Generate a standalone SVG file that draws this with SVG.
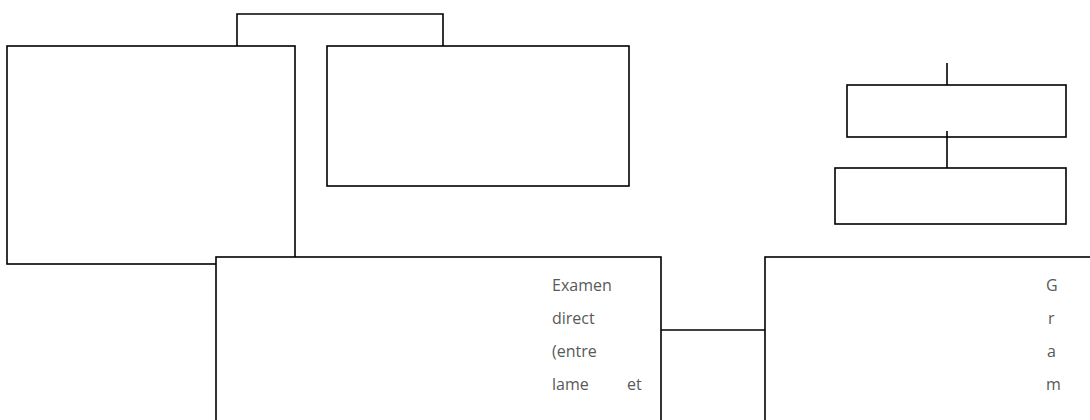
<svg xmlns="http://www.w3.org/2000/svg" width="1090" height="420" viewBox="0 0 1090 420">
<style>
.box{fill:#fff;stroke:#000;stroke-width:1.6}
.ln{fill:none;stroke:#000;stroke-width:1.6}
.t{font-family:"Open Sans","Liberation Sans",sans-serif;font-size:16px;fill:#595959}
</style>
<rect width="1090" height="420" fill="#fff"/>
<g id="connectors">
<path class="ln" d="M237,46 V14 H443 V46"/>
<path class="ln" d="M947,63 V85"/>
<path class="ln" d="M947,131 V168"/>
<path class="ln" d="M661,330 H765"/>
</g>
<g id="nodeA"><rect class="box" x="7" y="46" width="288" height="218"/></g>
<g id="nodeB"><rect class="box" x="327" y="46" width="302" height="140"/></g>
<g id="nodeC"><rect class="box" x="847" y="85" width="219" height="52"/></g>
<path class="ln" d="M947,131 V137"/>
<g id="nodeD"><rect class="box" x="835" y="168" width="231" height="56"/></g>
<g id="nodeE"><rect class="box" x="216" y="257" width="445" height="170"/>
<text class="t" x="552" y="291">Examen</text>
<text class="t" x="552" y="324">direct</text>
<text class="t" x="552" y="357">(entre</text>
<text class="t" x="552" y="390">lame</text>
<text class="t" x="627" y="390">et</text>
</g>
<g id="nodeF"><rect class="box" x="765" y="257" width="340" height="170"/>
<text class="t" x="1046" y="291">G</text>
<text class="t" x="1048" y="324">r</text>
<text class="t" x="1047" y="357">a</text>
<text class="t" x="1046" y="390">m</text>
</g>
</svg>
